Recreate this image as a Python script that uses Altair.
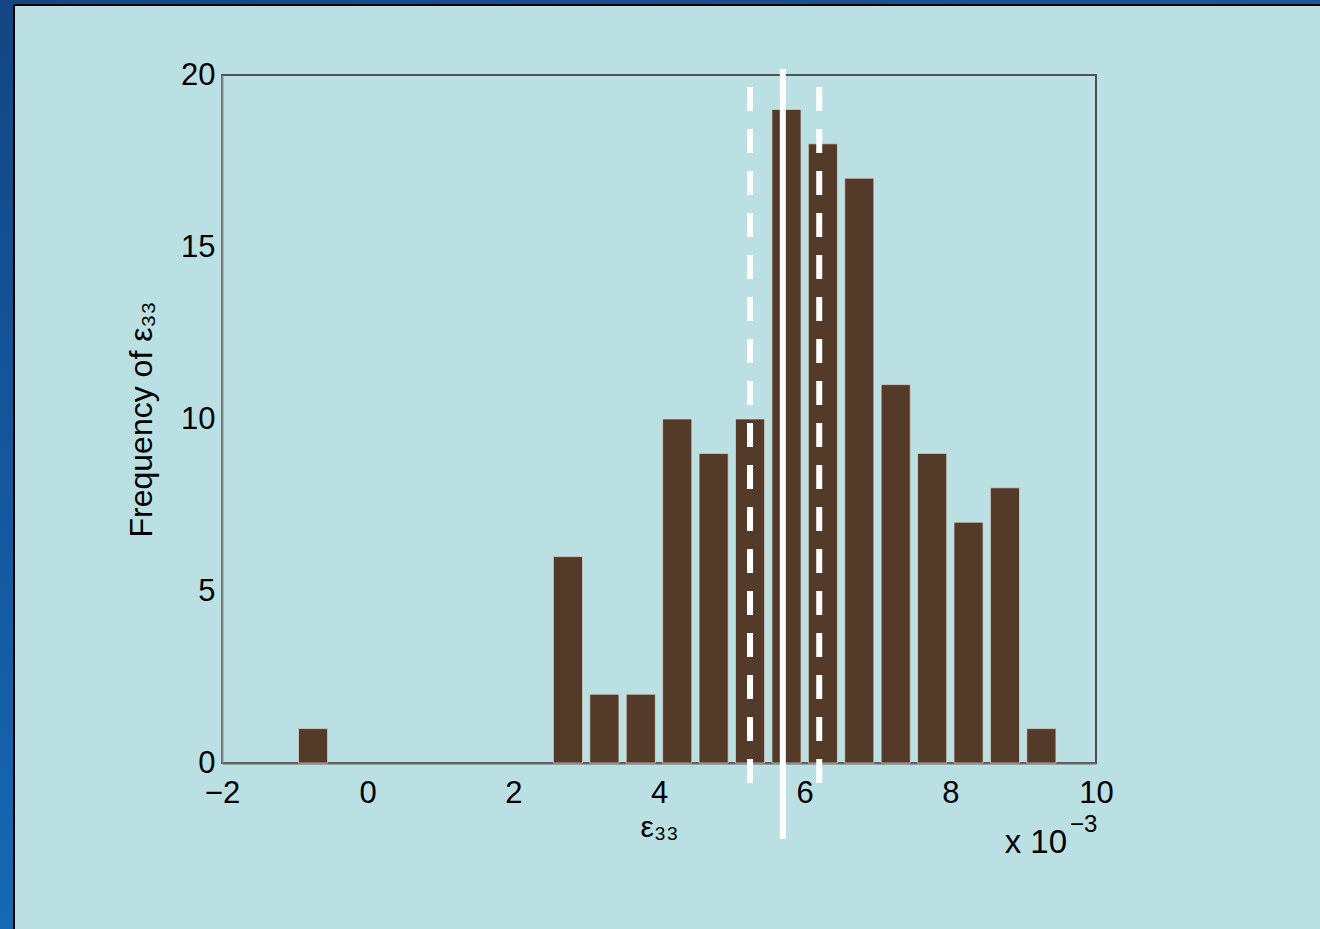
import altair as alt
import pandas as pd

# ---- data ----
bin_centers = [-0.75, 2.75, 3.25, 3.75, 4.25, 4.75, 5.25, 5.75, 6.25, 6.75, 7.25, 7.75, 8.25, 8.75, 9.25]
counts = [1, 6, 2, 2, 10, 9, 10, 19, 18, 17, 11, 9, 7, 8, 1]
x_ticks = [-2, 0, 2, 4, 6, 8, 10]
y_ticks = [0, 5, 10, 15, 20]
mean_value = [5.70]
bound_values = [5.25, 6.20]

W, H = 874, 688
FONT = "Liberation Sans"

bars_df = pd.DataFrame({"center": bin_centers, "count": counts})
mean_df = pd.DataFrame({"v": mean_value})
bound_df = pd.DataFrame({"v": bound_values})
deco_df = pd.DataFrame({"k": [0]})

xscale = alt.Scale(domain=[-2, 10], nice=False, zero=False)
yscale = alt.Scale(domain=[0, 20], nice=False)

bars = (
    alt.Chart(bars_df)
    .mark_rect(color="#533a29", stroke="#e6dcd4", strokeWidth=1, strokeOpacity=0.7)
    .transform_calculate(x0="datum.center - 0.2", x1="datum.center + 0.2")
    .encode(
        x=alt.X(
            "x0:Q",
            scale=xscale,
            axis=alt.Axis(
                values=x_ticks,
                format="d",
                title="ε₃₃",
                domainColor="#666666",
                labelPadding=15,
                titlePadding=4,
                titleFontSize=30,
            ),
        ),
        x2="x1:Q",
        y=alt.Y(
            "count:Q",
            scale=yscale,
            axis=alt.Axis(
                values=y_ticks,
                format="d",
                title="Frequency of ε₃₃",
                domainColor="#888888",
                labelPadding=7,
                titlePadding=22,
                titleFontSize=32,
            ),
        ),
        y2=alt.datum(0),
    )
)

dashed = (
    alt.Chart(bound_df)
    .mark_rule(color="white", strokeWidth=6, strokeDash=[24, 18])
    .encode(x=alt.X("v:Q", scale=xscale), y=alt.value(12), y2=alt.value(H + 20))
)

solid = (
    alt.Chart(mean_df)
    .mark_rule(color="white", strokeWidth=6)
    .encode(x=alt.X("v:Q", scale=xscale), y=alt.value(-6), y2=alt.value(H + 76))
)

deco = alt.Chart(deco_df)
top_strip = deco.mark_rect(
    color=alt.LinearGradient(
        gradient="linear",
        stops=[alt.GradientStop(color="#134784", offset=0), alt.GradientStop(color="#1b569a", offset=1)],
        x1=0, x2=1, y1=0, y2=0,
    )
).encode(x=alt.value(-230), x2=alt.value(W + 240), y=alt.value(-80), y2=alt.value(-70))
left_strip = deco.mark_rect(
    color=alt.LinearGradient(
        gradient="linear",
        stops=[alt.GradientStop(color="#124684", offset=0), alt.GradientStop(color="#1668b5", offset=1)],
        x1=0, x2=0, y1=0, y2=1,
    )
).encode(x=alt.value(-230), x2=alt.value(-208), y=alt.value(-80), y2=alt.value(H + 180))
black_top = deco.mark_rule(color="black", strokeWidth=2).encode(
    x=alt.value(-208), x2=alt.value(W + 240), y=alt.value(-70)
)
black_left = deco.mark_rule(color="black", strokeWidth=2).encode(
    x=alt.value(-208), y=alt.value(-70), y2=alt.value(H + 180)
)

times_txt = deco.mark_text(font=FONT, fontSize=33, align="right", baseline="alphabetic", color="black").encode(
    x=alt.value(W - 29), y=alt.value(H + 90), text=alt.value("x 10")
)
exp_txt = deco.mark_text(font=FONT, fontSize=24, align="left", baseline="alphabetic", color="black").encode(
    x=alt.value(W - 26), y=alt.value(H + 69), text=alt.value("−3")
)

chart = (
    alt.layer(top_strip, left_strip, black_top, black_left, bars, dashed, solid, times_txt, exp_txt)
    .properties(
        width=W,
        height=H,
        background="#bae0e3",
        padding={"left": 222, "top": 75, "right": 224, "bottom": 166},
        autosize=alt.AutoSizeParams(type="none"),
    )
    .configure_view(stroke="#505050", strokeWidth=2)
    .configure_axis(
        labelFont=FONT,
        labelFontSize=31,
        labelColor="black",
        titleFont=FONT,
        titleColor="black",
        titleFontWeight="normal",
        domainWidth=2,
        ticks=False,
        grid=False,
        labelFlush=False,
        labelOverlap=False,
        zindex=1,
    )
)

chart.save("out.html", embed_options={"renderer": "svg", "actions": False})
